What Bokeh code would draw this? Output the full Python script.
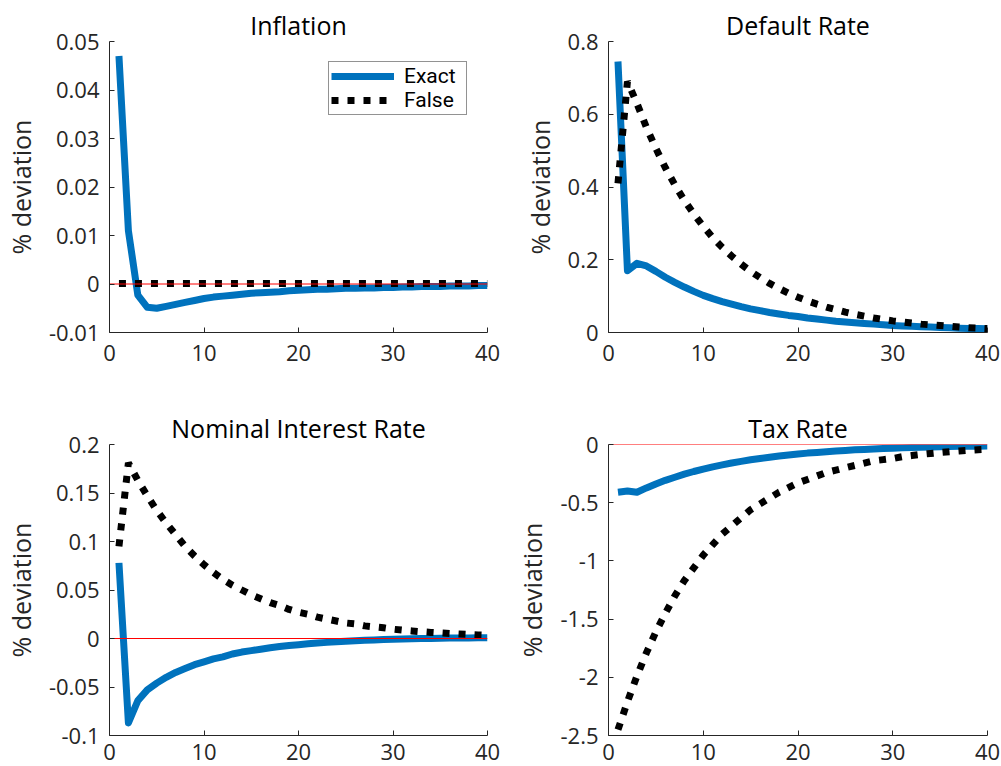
from bokeh.plotting import figure
from bokeh.layouts import gridplot
from bokeh.models import Range1d, FixedTicker, Span, Legend, LegendItem
from bokeh.embed import file_html
from bokeh.resources import INLINE

periods = list(range(1, 41))

inflation_exact = [0.047, 0.011, -0.0023, -0.0048, -0.0050, -0.0046, -0.0042, -0.0038, -0.0034, -0.0030,
                   -0.0027, -0.0025, -0.0023, -0.0021, -0.0019, -0.0018, -0.0017, -0.0016, -0.0014, -0.0013,
                   -0.0012, -0.0011, -0.0011, -0.0010, -0.0009, -0.0009, -0.0008, -0.0008, -0.0007, -0.0007,
                   -0.0006, -0.0006, -0.0005, -0.0005, -0.0005, -0.0004, -0.0004, -0.0004, -0.0003, -0.0003]
inflation_false = [0.0001, 0.0001, 0.0001, 0.0001, 0.0001, 0.0001, 0.0001, 0.0001, 0.0001, 0.0001,
                   0.0001, 0.0001, 0.0001, 0.0001, 0.0001, 0.0001, 0.0001, 0.0001, 0.0001, 0.0001,
                   0.0001, 0.0001, 0.0001, 0.0001, 0.0001, 0.0001, 0.0001, 0.0001, 0.0001, 0.0001,
                   0.0001, 0.0001, 0.0001, 0.0001, 0.0001, 0.0001, 0.0001, 0.0001, 0.0001, 0.0001]

default_exact = [0.745, 0.170, 0.190, 0.183, 0.168, 0.152, 0.138, 0.125, 0.113, 0.102,
                 0.093, 0.085, 0.078, 0.071, 0.065, 0.060, 0.055, 0.051, 0.047, 0.044,
                 0.040, 0.037, 0.034, 0.031, 0.029, 0.027, 0.025, 0.023, 0.021, 0.019,
                 0.018, 0.017, 0.016, 0.015, 0.014, 0.013, 0.012, 0.011, 0.011, 0.010]
default_false = [0.41, 0.69, 0.63, 0.564, 0.506, 0.453, 0.406, 0.363, 0.326, 0.292,
                 0.261, 0.234, 0.210, 0.188, 0.168, 0.151, 0.135, 0.121, 0.108, 0.097,
                 0.087, 0.078, 0.070, 0.063, 0.056, 0.050, 0.045, 0.040, 0.036, 0.032,
                 0.029, 0.026, 0.023, 0.021, 0.019, 0.017, 0.015, 0.013, 0.012, 0.011]

nominal_exact = [0.078, -0.087, -0.064, -0.053, -0.046, -0.040, -0.035, -0.031, -0.027, -0.024,
                 -0.021, -0.019, -0.016, -0.014, -0.0125, -0.011, -0.0095, -0.0083, -0.0072, -0.0064,
                 -0.0055, -0.0047, -0.0040, -0.0034, -0.0029, -0.0024, -0.0019, -0.0015, -0.0011, -0.0008,
                 -0.0005, -0.0003, -0.0001, 0.0001, 0.0003, 0.0004, 0.0005, 0.0006, 0.0007, 0.0008]
nominal_false = [0.095, 0.181, 0.163, 0.147, 0.132, 0.119, 0.107, 0.095, 0.085, 0.076,
                 0.068, 0.061, 0.055, 0.050, 0.045, 0.041, 0.037, 0.034, 0.030, 0.027,
                 0.025, 0.022, 0.020, 0.018, 0.016, 0.015, 0.013, 0.012, 0.011, 0.0096,
                 0.0086, 0.0078, 0.0070, 0.0063, 0.0057, 0.0051, 0.0046, 0.0041, 0.0037, 0.0033]

tax_exact = [-0.41, -0.40, -0.41, -0.373, -0.339, -0.308, -0.281, -0.255, -0.232, -0.211,
             -0.192, -0.175, -0.159, -0.145, -0.131, -0.120, -0.109, -0.099, -0.090, -0.082,
             -0.074, -0.068, -0.062, -0.056, -0.051, -0.046, -0.042, -0.038, -0.035, -0.032,
             -0.029, -0.026, -0.024, -0.022, -0.020, -0.018, -0.016, -0.015, -0.014, -0.012]
tax_false = [-2.45, -2.21, -1.99, -1.79, -1.61, -1.45, -1.30, -1.17, -1.06, -0.95,
             -0.86, -0.77, -0.70, -0.63, -0.56, -0.51, -0.46, -0.41, -0.37, -0.33,
             -0.30, -0.27, -0.24, -0.22, -0.20, -0.18, -0.16, -0.14, -0.13, -0.12,
             -0.105, -0.095, -0.085, -0.077, -0.069, -0.062, -0.056, -0.050, -0.045, -0.041]

x_ticks = [0, 10, 20, 30, 40]
x_labels = ["0", "10", "20", "30", "40"]

infl_ticks = [-0.01, 0, 0.01, 0.02, 0.03, 0.04, 0.05]
infl_labels = ["-0.01", "0", "0.01", "0.02", "0.03", "0.04", "0.05"]
default_ticks = [0, 0.2, 0.4, 0.6, 0.8]
default_labels = ["0", "0.2", "0.4", "0.6", "0.8"]
nominal_ticks = [-0.1, -0.05, 0, 0.05, 0.1, 0.15, 0.2]
nominal_labels = ["-0.1", "-0.05", "0", "0.05", "0.1", "0.15", "0.2"]
tax_ticks = [-2.5, -2, -1.5, -1, -0.5, 0]
tax_labels = ["-2.5", "-2", "-1.5", "-1", "-0.5", "0"]

series_names = ["Exact", "False"]

FONT = "Open Sans"
LEGEND_FONT = "Roboto"
TXT = "#262626"
BLUE = "#0072BD"


def panel(title, yrange, ticks, labels, exact, false, width, height, top, bottom, right,
          xstandoff, legend=False):
    p = figure(width=width, height=height, x_range=Range1d(0, 40), y_range=Range1d(*yrange),
               output_backend="svg", toolbar_location=None,
               min_border_left=108, min_border_right=right,
               min_border_top=top, min_border_bottom=bottom)
    p.grid.visible = False
    p.outline_line_color = None
    p.background_fill_color = "white"
    p.border_fill_color = "white"

    p.title.text = title
    p.title.align = "center"
    p.title.text_font = FONT
    p.title.text_font_size = "25px"
    p.title.text_font_style = "normal"
    p.title.text_color = "black"
    p.title.standoff = 0

    for ax in (p.xaxis[0], p.yaxis[0]):
        ax.axis_line_color = TXT
        ax.axis_line_width = 1
        ax.major_tick_line_color = TXT
        ax.major_tick_in = 5
        ax.major_tick_out = 0
        ax.minor_tick_line_color = None
        ax.major_label_text_font = FONT
        ax.major_label_text_font_size = "22px"
        ax.major_label_text_color = TXT

    p.xaxis.ticker = FixedTicker(ticks=x_ticks)
    p.xaxis.major_label_overrides = dict(zip(x_ticks, x_labels))
    p.xaxis.major_label_standoff = xstandoff

    p.yaxis.ticker = FixedTicker(ticks=ticks)
    p.yaxis.major_label_overrides = dict(zip(ticks, labels))
    p.yaxis.major_label_standoff = 10
    p.yaxis.axis_label = "% deviation"
    p.yaxis.axis_label_text_font = FONT
    p.yaxis.axis_label_text_font_size = "25px"
    p.yaxis.axis_label_text_font_style = "normal"
    p.yaxis.axis_label_text_color = TXT
    p.yaxis.axis_label_standoff = 8

    r1 = p.line(periods, exact, line_color=BLUE, line_width=7, line_join="round")
    p.add_layout(Span(location=0, dimension="width", line_color="#ff0000", line_width=1, level="glyph"))
    r2 = p.line(periods, false, line_color="black", line_width=7, line_dash="7 9")

    if legend:
        lg = Legend(items=[LegendItem(label=series_names[0], renderers=[r1]),
                           LegendItem(label=series_names[1], renderers=[r2])],
                    location="top_right", orientation="vertical")
        lg.label_text_font = LEGEND_FONT
        lg.label_text_font_size = "21px"
        lg.label_text_color = "black"
        lg.label_height = 20
        lg.glyph_height = 20
        lg.glyph_width = 63
        lg.label_width = 60
        lg.label_standoff = 10
        lg.spacing = 0
        lg.padding = 2
        lg.margin = 20
        lg.border_line_color = "#262626"
        lg.border_line_width = 1
        lg.background_fill_alpha = 1
        p.add_layout(lg, "center")
    return p


p1 = panel("Inflation", (-0.01, 0.05), infl_ticks, infl_labels, inflation_exact, inflation_false,
           500, 383, 41, 51, 13, 12, legend=True)
p2 = panel("Default Rate", (0, 0.8), default_ticks, default_labels, default_exact, default_false,
           501, 383, 41, 51, 14, 12)
p3 = panel("Nominal Interest Rate", (-0.1, 0.2), nominal_ticks, nominal_labels, nominal_exact, nominal_false,
           500, 383, 61, 31, 13, 8)
p4 = panel("Tax Rate", (-2.5, 0), tax_ticks, tax_labels, tax_exact, tax_false,
           501, 383, 61, 31, 14, 8)

grid = gridplot([[p1, p2], [p3, p4]], toolbar_location=None)

open("out.html", "w").write(file_html(grid, INLINE))
